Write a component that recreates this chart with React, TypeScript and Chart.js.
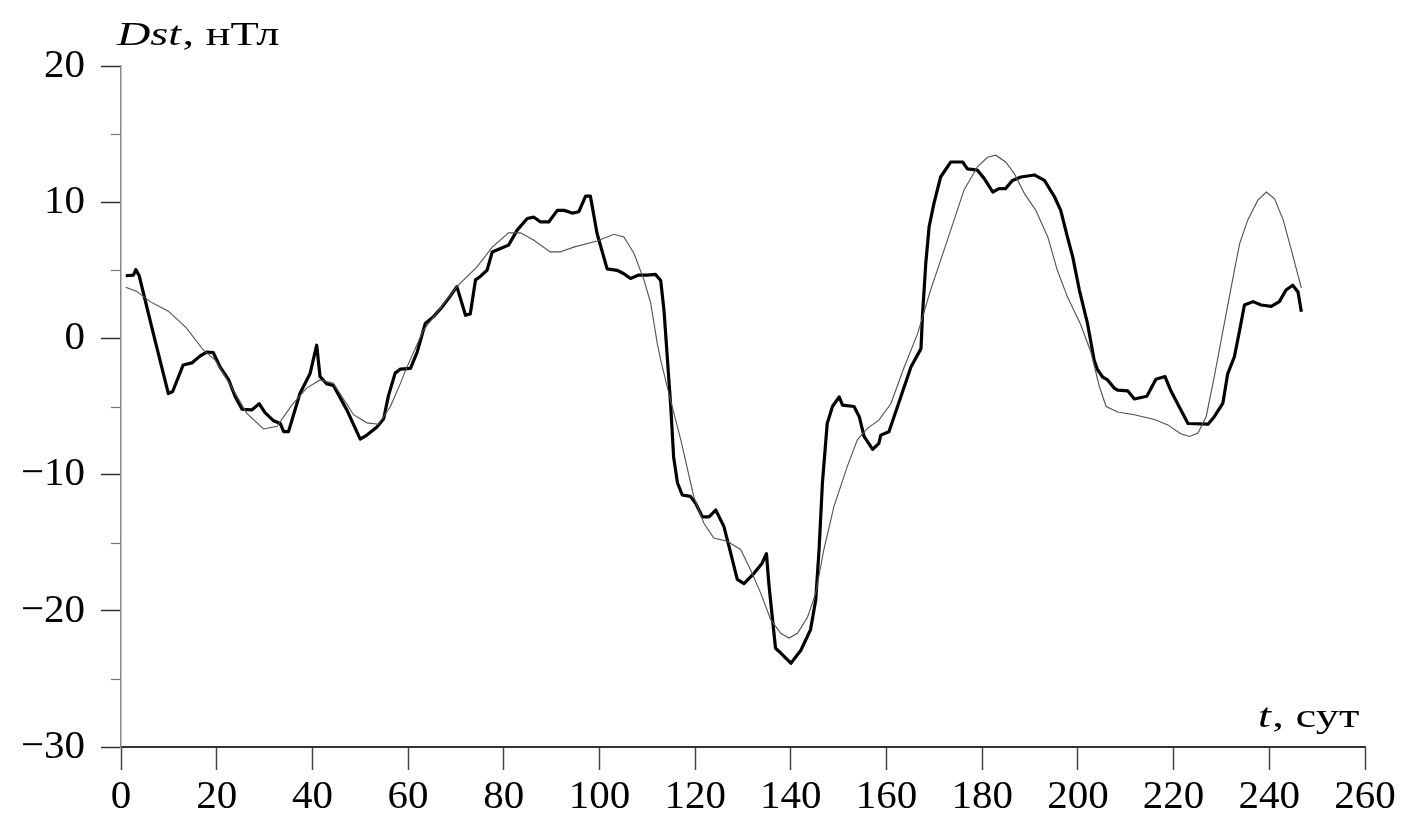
import React, { useEffect, useRef } from 'react';
import { Chart, registerables } from 'chart.js';

Chart.register(...registerables);

// ---- Data ----
const obsT = [1.0, 2.6, 3.1, 3.8, 6.8, 9.9, 10.8, 13.0, 14.8, 16.5, 17.9, 19.3, 20.7, 22.5, 23.9, 25.3, 27.3, 28.9, 30.1, 31.9, 33.3, 34.0, 35.0, 37.4, 39.5, 40.9, 41.6, 43.0, 44.4, 47.2, 50.0, 51.4, 53.5, 54.9, 55.9, 57.3, 58.4, 60.5, 61.9, 63.6, 65.3, 67.1, 68.8, 70.2, 72.0, 73.0, 74.1, 75.1, 76.5, 77.6, 79.3, 81.0, 82.8, 84.9, 86.3, 87.7, 89.4, 91.2, 92.6, 94.3, 95.7, 97.1, 98.1, 99.5, 101.6, 103.7, 105.1, 106.5, 108.2, 110.0, 111.7, 112.8, 113.5, 114.2, 114.9, 115.5, 116.3, 117.3, 119.0, 120.1, 121.5, 122.9, 124.3, 126.0, 127.1, 128.8, 130.2, 132.3, 134.0, 134.9, 135.4, 136.1, 136.8, 137.9, 140.0, 142.1, 144.1, 145.2, 145.9, 146.6, 147.6, 148.7, 150.1, 150.8, 153.2, 154.3, 155.3, 157.1, 158.4, 158.8, 160.5, 162.3, 163.7, 165.1, 167.2, 167.5, 168.2, 168.9, 169.9, 171.3, 173.4, 175.9, 176.9, 179.0, 180.4, 182.2, 183.5, 184.9, 186.3, 188.1, 190.9, 193.0, 195.1, 196.4, 197.8, 198.9, 200.3, 202.0, 203.4, 204.1, 205.2, 206.2, 207.6, 208.3, 210.4, 211.8, 214.4, 216.3, 218.2, 219.5, 221.0, 223.0, 227.2, 228.5, 230.3, 231.3, 232.7, 233.8, 234.8, 236.6, 238.3, 240.4, 242.1, 243.5, 244.9, 246.0, 246.7];
const obsV = [4.6, 4.65, 5.05, 4.6, 0.3, -4.05, -3.9, -1.95, -1.8, -1.3, -1.0, -1.05, -2.1, -3.05, -4.3, -5.2, -5.25, -4.8, -5.45, -6.05, -6.25, -6.85, -6.85, -4.05, -2.6, -0.5, -2.8, -3.35, -3.45, -5.25, -7.4, -7.1, -6.5, -5.9, -4.2, -2.55, -2.25, -2.2, -1.0, 1.1, 1.6, 2.3, 3.1, 3.8, 1.7, 1.8, 4.3, 4.55, 5.0, 6.35, 6.6, 6.85, 7.95, 8.8, 8.9, 8.55, 8.55, 9.4, 9.4, 9.2, 9.3, 10.45, 10.45, 7.7, 5.1, 5.0, 4.75, 4.4, 4.65, 4.65, 4.7, 4.25, 2.0, -1.5, -5.0, -8.7, -10.6, -11.5, -11.6, -12.1, -13.1, -13.1, -12.6, -13.8, -15.3, -17.7, -18.0, -17.25, -16.5, -15.8, -18.0, -20.4, -22.75, -23.1, -23.85, -22.9, -21.4, -19.2, -15.5, -10.6, -6.25, -5.0, -4.3, -4.9, -5.0, -5.75, -7.2, -8.15, -7.7, -7.1, -6.85, -5.0, -3.55, -2.1, -0.75, 1.6, 5.5, 8.2, 9.9, 11.85, 12.95, 12.95, 12.45, 12.35, 11.75, 10.75, 11.0, 11.0, 11.6, 11.85, 12.0, 11.6, 10.4, 9.4, 7.45, 6.0, 3.55, 1.1, -1.6, -2.3, -2.85, -3.05, -3.65, -3.8, -3.85, -4.45, -4.25, -3.0, -2.8, -3.9, -4.9, -6.25, -6.3, -5.75, -4.75, -2.6, -1.35, 0.6, 2.45, 2.7, 2.45, 2.35, 2.7, 3.55, 3.9, 3.4, 1.95];

const modT = [1.0, 3.3, 6.1, 9.9, 13.7, 17.2, 19.7, 23.5, 26.3, 29.8, 32.6, 35.7, 38.8, 41.6, 44.4, 48.6, 51.4, 53.8, 56.3, 58.4, 59.4, 63.2, 70.2, 74.4, 77.6, 81.0, 83.5, 86.3, 89.7, 91.8, 94.6, 99.5, 103.0, 105.1, 107.2, 109.3, 110.7, 112.1, 112.8, 114.9, 117.0, 119.7, 121.8, 123.9, 126.7, 129.5, 131.6, 133.7, 135.8, 137.9, 139.6, 141.4, 143.5, 145.2, 146.9, 149.0, 151.8, 153.9, 156.0, 158.4, 160.9, 163.7, 166.5, 169.2, 172.7, 176.2, 179.0, 181.1, 182.8, 184.9, 186.7, 188.8, 191.2, 193.7, 195.7, 197.8, 200.6, 202.7, 204.5, 205.9, 208.3, 211.8, 216.0, 218.8, 221.5, 223.3, 225.1, 226.8, 228.5, 230.6, 232.7, 233.8, 235.5, 237.6, 239.4, 241.1, 242.9, 244.6, 246.7];
const modV = [3.75, 3.45, 2.7, 2.0, 0.75, -0.85, -1.6, -3.8, -5.5, -6.65, -6.45, -4.9, -3.65, -3.05, -3.3, -5.6, -6.2, -6.3, -5.0, -3.3, -2.4, 0.6, 3.8, 5.25, 6.7, 7.75, 7.75, 7.2, 6.35, 6.35, 6.7, 7.15, 7.65, 7.45, 6.25, 4.3, 2.6, -0.4, -1.6, -4.6, -7.45, -11.6, -13.55, -14.65, -14.9, -15.5, -17.0, -18.7, -20.65, -21.65, -22.0, -21.65, -20.45, -18.7, -15.5, -12.35, -9.4, -7.45, -6.6, -6.0, -4.8, -2.1, 0.35, 3.55, 7.2, 10.9, 12.6, 13.3, 13.45, 12.95, 12.1, 10.65, 9.4, 7.45, 5.0, 3.05, 1.0, -1.0, -3.55, -5.0, -5.4, -5.6, -5.95, -6.35, -7.0, -7.2, -6.95, -5.75, -2.8, 1.1, 5.0, 6.95, 8.7, 10.15, 10.75, 10.25, 8.7, 6.5, 3.7];

const xMin = 0;
const xMax = 260;
const xStep = 20;
const yMin = -30;
const yMax = 20;
const yMajorStep = 10;
const yMinorStep = 5;

const yTitleItalic = 'Dst';
const yTitleRest = ', нТл';
const xTitleItalic = 't';
const xTitleRest = ', сут';

const FONT = '"Liberation Serif", "Times New Roman", serif';

function drawTitle(ctx: CanvasRenderingContext2D, italic: string, rest: string, size: number, x: number, baseline: number, targetWidth: number, alignRight: boolean) {
  ctx.save();
  ctx.fillStyle = '#000';
  ctx.textBaseline = 'alphabetic';
  ctx.textAlign = 'left';
  ctx.font = `italic ${size}px ${FONT}`;
  const w1 = ctx.measureText(italic).width;
  ctx.font = `${size}px ${FONT}`;
  const w2 = ctx.measureText(rest).width;
  const sx = targetWidth / (w1 + w2);
  const x0 = alignRight ? x - targetWidth : x;
  ctx.translate(x0, baseline);
  ctx.scale(sx, 1);
  ctx.font = `italic ${size}px ${FONT}`;
  ctx.fillText(italic, 0, 0);
  ctx.font = `${size}px ${FONT}`;
  ctx.fillText(rest, w1 + 1, 0);
  ctx.restore();
}

const decorPlugin = {
  id: 'decor',
  afterDraw(chart: any) {
    const ctx: CanvasRenderingContext2D = chart.ctx;
    const area = chart.chartArea;
    const ys = chart.scales.y;
    // minor y ticks
    ctx.save();
    ctx.strokeStyle = '#777';
    ctx.lineWidth = 1.2;
    for (let v = yMin; v <= yMax; v += yMinorStep) {
      if (v % yMajorStep === 0) continue;
      const py = Math.round(ys.getPixelForValue(v)) + 0.5;
      ctx.beginPath();
      ctx.moveTo(area.left - 10, py);
      ctx.lineTo(area.left, py);
      ctx.stroke();
    }
    ctx.restore();
    // axis titles
    drawTitle(ctx, yTitleItalic, yTitleRest, 34, area.left - 4, area.top - 21, 161, false);
    drawTitle(ctx, xTitleItalic, xTitleRest, 34, area.right - 7, area.bottom - 20, 100, true);
  },
};

function fmt(v: number): string {
  if (v % yMajorStep !== 0) return '';
  return v < 0 ? '\u2212' + Math.abs(v) : String(v);
}

export default function App() {
  const ref = useRef<HTMLCanvasElement>(null);
  useEffect(() => {
    const canvas = ref.current;
    if (!canvas) return;
    const chart = new Chart(canvas, {
      type: 'line',
      data: {
        datasets: [
          {
            label: 'model',
            data: modT.map((t, i) => ({ x: t, y: modV[i] })),
            borderColor: '#505050',
            borderWidth: 1.1,
            pointRadius: 0,
            tension: 0,
            fill: false,
          },
          {
            label: 'observed',
            data: obsT.map((t, i) => ({ x: t, y: obsV[i] })),
            borderColor: '#000',
            borderWidth: 3.2,
            pointRadius: 0,
            tension: 0,
            fill: false,
            borderJoinStyle: 'round',
          },
        ],
      },
      options: {
        responsive: false,
        animation: false,
        devicePixelRatio: 1,
        layout: { padding: { left: 0, top: 66, right: 43, bottom: 0 } },
        plugins: { legend: { display: false }, tooltip: { enabled: false } },
        scales: {
          x: {
            type: 'linear',
            min: xMin,
            max: xMax,
            afterFit: (s: any) => { s.height = 80; },
            ticks: {
              stepSize: xStep,
              autoSkip: false,
              maxRotation: 0,
              color: '#000',
              padding: 3,
              font: { family: FONT, size: 41 },
            },
            grid: { drawOnChartArea: false, drawTicks: true, tickLength: 23, tickColor: '#444', tickWidth: 1.5 },
            border: { color: '#333', width: 2 },
          },
          y: {
            type: 'linear',
            min: yMin,
            max: yMax,
            afterFit: (s: any) => { s.width = 121; },
            ticks: {
              stepSize: yMinorStep,
              autoSkip: false,
              color: '#000',
              padding: 16,
              font: { family: FONT, size: 41 },
              callback: (v: any) => fmt(Number(v)),
            },
            grid: {
              drawOnChartArea: false,
              drawTicks: true,
              tickLength: 20,
              tickWidth: 1.5,
              tickColor: (c: any) => (c.tick && c.tick.value % yMajorStep === 0 ? '#333' : 'rgba(0,0,0,0)'),
            },
            border: { color: '#888', width: 1.5 },
          },
        },
      },
      plugins: [decorPlugin],
    } as any);
    return () => chart.destroy();
  }, []);
  return (
    <div style={{ position: 'fixed', left: 0, top: 0, width: 1408, height: 827, background: '#fff' }}>
      <canvas ref={ref} width={1408} height={827} style={{ display: 'block', width: 1408, height: 827 }} />
    </div>
  );
}
